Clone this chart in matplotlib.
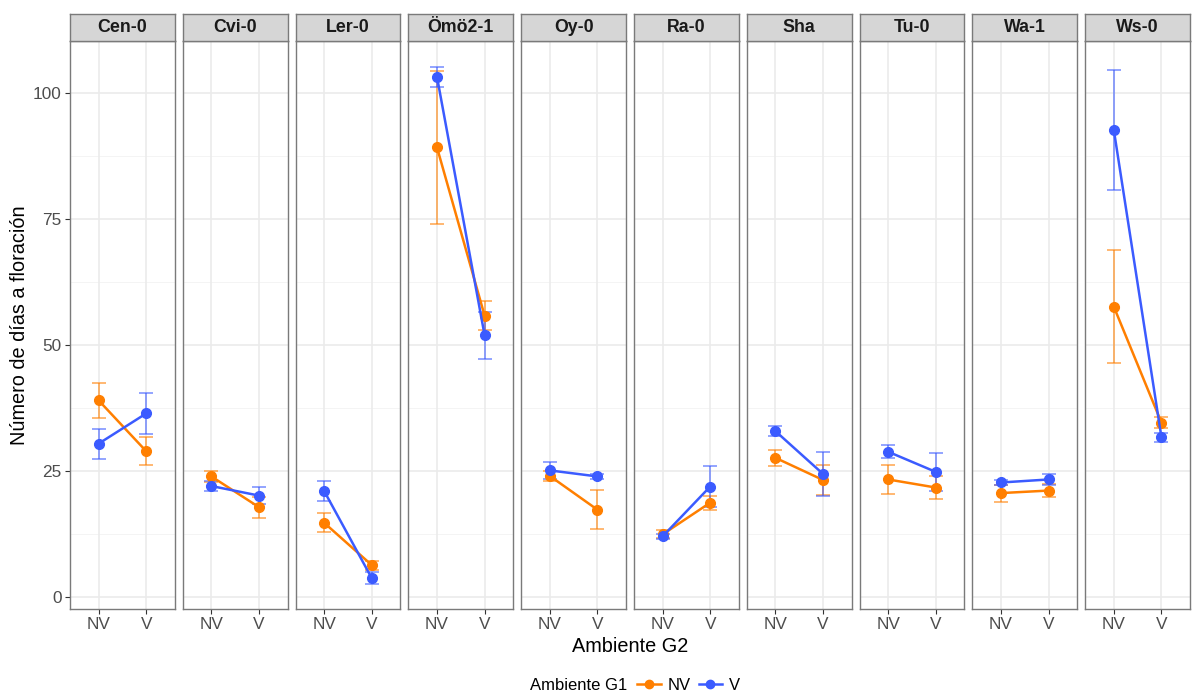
import matplotlib
matplotlib.use("Agg")
import matplotlib.pyplot as plt
from matplotlib.lines import Line2D
from matplotlib.offsetbox import HPacker

plt.rcParams['font.family'] = ['Liberation Sans', 'DejaVu Sans']

genotypes = ["Cen-0", "Cvi-0", "Ler-0", "Ömö2-1", "Oy-0", "Ra-0", "Sha", "Tu-0", "Wa-1", "Ws-0"]
g2_levels = ["NV", "V"]

# mean values [NV, V] for each genotype, series by Ambiente G1
nv_mean = [[39.0, 28.9], [23.9, 17.8], [14.7, 6.3], [89.2, 55.8], [24.0, 17.3],
           [12.4, 18.7], [27.6, 23.2], [23.3, 21.7], [20.6, 21.1], [57.6, 34.6]]
nv_err = [[3.5, 2.8], [1.1, 2.1], [1.9, 0.9], [15.2, 2.9], [1.0, 3.9],
          [0.8, 1.4], [1.6, 3.0], [2.9, 2.2], [1.7, 1.3], [11.2, 1.1]]
v_mean = [[30.4, 36.4], [22.0, 20.1], [21.0, 3.7], [103.2, 51.9], [25.1, 23.9],
          [12.0, 21.9], [32.9, 24.4], [28.8, 24.8], [22.7, 23.3], [92.7, 31.7]]
v_err = [[3.0, 4.1], [0.9, 1.7], [1.9, 1.2], [2.0, 4.6], [1.7, 0.5],
         [0.5, 4.0], [1.0, 4.3], [1.3, 3.7], [0.5, 1.0], [11.9, 0.9]]

series = [("NV", nv_mean, nv_err, "#FF7F00"), ("V", v_mean, v_err, "#3B5BFF")]

W, H = 1193, 696
fig = plt.figure(figsize=(W / 100, H / 100), dpi=100)

left_px, right_px = 70, 1190
gap_px = 8
n = len(genotypes)
pw = (right_px - left_px - gap_px * (n - 1)) / n
top_px, bot_px, strip_top_px = 41, 609, 14

ymin, ymax = -2.4, 110.3
x_pos = [0, 1]
border = "#7A7A7A"
tick_fs = 12.4

for i, g in enumerate(genotypes):
    x0 = left_px + i * (pw + gap_px)
    ax = fig.add_axes([x0 / W, 1 - bot_px / H, pw / W, (bot_px - top_px) / H])
    ax.set_xlim(-0.6, 1.6)
    ax.set_ylim(ymin, ymax)
    ax.set_facecolor("white")
    for yv in [12.5, 37.5, 62.5, 87.5]:
        ax.axhline(yv, color="#F2F2F2", lw=0.6, zorder=0)
    for yv in [0, 25, 50, 75, 100]:
        ax.axhline(yv, color="#EBEBEB", lw=1.2, zorder=0)
    for xv in x_pos:
        ax.axvline(xv, color="#EBEBEB", lw=1.2, zorder=0)
    for name, m, e, col in series:
        ax.errorbar(x_pos, m[i], yerr=e[i], fmt="none", ecolor=col, elinewidth=1.1,
                    capsize=4.8, capthick=1.1, alpha=0.7, zorder=2)
        ax.plot(x_pos, m[i], color=col, lw=1.8, marker="o", ms=7, zorder=3)
    ax.set_xticks(x_pos)
    ax.set_xticklabels(g2_levels, fontsize=tick_fs, color="#4D4D4D")
    ax.set_yticks([0, 25, 50, 75, 100])
    if i == 0:
        ax.set_yticklabels(["0", "25", "50", "75", "100"], fontsize=tick_fs, color="#4D4D4D")
    else:
        ax.tick_params(axis="y", left=False, labelleft=False)
    ax.tick_params(axis="both", color="#333333", length=3.5, width=0.8, pad=2.5)
    for sp in ax.spines.values():
        sp.set_color(border)
        sp.set_linewidth(1.0)
    # strip
    sax = fig.add_axes([x0 / W, 1 - top_px / H, pw / W, (top_px - strip_top_px) / H])
    sax.set_facecolor("#D6D6D6")
    sax.set_xticks([])
    sax.set_yticks([])
    for sp in sax.spines.values():
        sp.set_color(border)
        sp.set_linewidth(1.0)
    sax.text(0.5, 0.5, g, ha="center", va="center", fontsize=12.8, fontweight="bold",
             color="#1A1A1A", transform=sax.transAxes)

fig.text((left_px + right_px) / 2 / W, 1 - 646 / H, "Ambiente G2", ha="center",
         va="center", fontsize=14.3)
fig.text(20 / W, 1 - (top_px + bot_px) / 2 / H, "Número de días a floración",
         rotation=90, ha="center", va="center", fontsize=14.3)

handles = [Line2D([0], [0], color=c, lw=1.8, marker="o", ms=6) for _, _, _, c in series]
leg = fig.legend(handles, [s[0] for s in series], title="Ambiente G1", ncol=2,
                 loc="center", bbox_to_anchor=(635 / W, 1 - 685 / H), frameon=False,
                 fontsize=12, title_fontsize=12, handlelength=1.4,
                 handletextpad=0.4, columnspacing=0.5)
title_box = leg._legend_title_box
entries = leg._legend_handle_box
leg._legend_box._children = [HPacker(pad=0, sep=7, children=[title_box, entries], align="center")]

fig.savefig("out.png", dpi=100, facecolor="white")
